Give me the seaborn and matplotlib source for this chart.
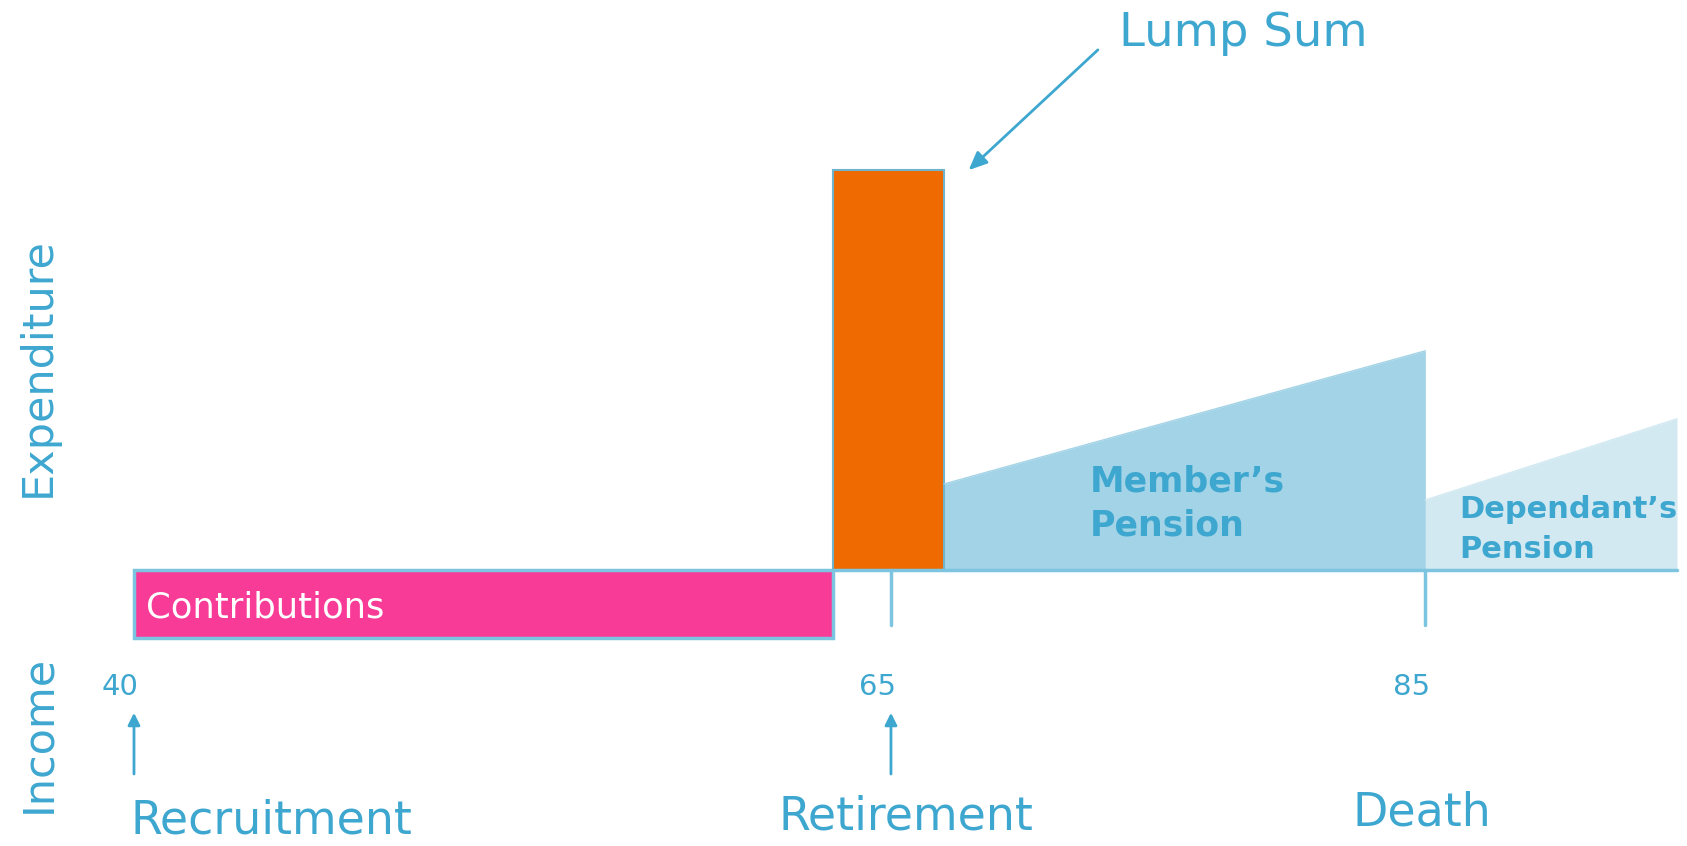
import numpy as np
import pandas as pd
import seaborn as sns
import matplotlib.pyplot as plt

# Schematic timeline (age-like units) and amounts (arbitrary units)
contrib_span = [40.0, 63.08]
contrib_level = -1.7
lump_span = [63.08, 66.75]
lump_level = 10.0

pension_streams = ["Member’s\nPension", "Dependant’s\nPension"]
pension_start = [66.75, 82.65]
pension_end = [82.65, 90.96]
pension_level_start = [2.15, 1.75]
pension_level_end = [5.48, 3.78]

event_ages = [40.0, 65.0, 82.65]
age_labels = ["40", "65", "85"]
event_labels = ["Recruitment", "Retirement", "Death"]

text_blue = "#3ea7d0"
line_blue = "#7cc4e0"
pink = "#f73b97"
orange = "#ef6a00"
pension_cols = ["#a3d3e6", "#d2e9f2"]

sns.set_theme(style="white")
plt.rcParams["font.family"] = ["DejaVu Sans"]

fig = plt.figure(figsize=(16.87, 8.46), dpi=100)
ax = fig.add_axes([0, 0, 1, 1])
ax.set_xlim(35.575, 91.29)
ax.set_ylim(-6.9, 14.25)
ax.axis("off")

# pension areas
rows = []
for name, x0, x1, y0, y1 in zip(pension_streams, pension_start, pension_end,
                                 pension_level_start, pension_level_end):
    rows.append({"stream": name, "age": x0, "level": y0})
    rows.append({"stream": name, "age": x1, "level": y1})
df = pd.DataFrame(rows)
sns.lineplot(data=df, x="age", y="level", hue="stream", palette=pension_cols,
             legend=False, lw=1, ax=ax)
for (name, grp), col in zip(df.groupby("stream", sort=False), pension_cols):
    ax.fill_between(grp["age"], 0, grp["level"], color=col, lw=0)

# baseline
ax.plot([lump_span[0], pension_end[-1]], [0, 0], color=line_blue, lw=2.5)

# contributions bar (income side)
ax.bar(contrib_span[0], contrib_level, width=contrib_span[1] - contrib_span[0],
       bottom=0, align="edge", color=pink, edgecolor=line_blue, lw=2.5)
ax.text(40.4, -1.2, "Contributions", color="white", fontsize=25.5,
        ha="left", va="baseline")

# lump sum bar
ax.bar(lump_span[0], lump_level, width=lump_span[1] - lump_span[0],
       bottom=0, align="edge", color=orange, edgecolor="#6fb3cc", lw=1.5)
ax.annotate("", xy=(67.5, 9.95), xytext=(71.9, 13.05),
            arrowprops=dict(arrowstyle="-|>,head_length=0.5,head_width=0.22",
                            color=text_blue, lw=2, mutation_scale=22))
ax.text(72.53, 13.1, "Lump Sum", color=text_blue, fontsize=33.5,
        ha="left", va="baseline")

# pension labels
ax.text(71.57, 1.95, "Member’s", color=text_blue, fontsize=25,
        fontweight="bold", ha="left", va="baseline")
ax.text(71.57, 0.85, "Pension", color=text_blue, fontsize=25,
        fontweight="bold", ha="left", va="baseline")
ax.text(83.76, 1.3, "Dependant’s", color=text_blue, fontsize=22,
        fontweight="bold", ha="left", va="baseline")
ax.text(83.76, 0.3, "Pension", color=text_blue, fontsize=22,
        fontweight="bold", ha="left", va="baseline")

# event ticks, ages, arrows and labels
for i, (age, lab, ev) in enumerate(zip(event_ages, age_labels, event_labels)):
    if i > 0:
        ax.plot([age, age], [0, -1.375], color=line_blue, lw=2.5)
    ax.annotate(lab, xy=(age, -3.125), xytext=(-10, 0), textcoords="offset points",
                color=text_blue, fontsize=21, ha="center", va="baseline")
    if i < 2:
        ax.annotate("", xy=(age, -3.5), xytext=(age, -5.17),
                    arrowprops=dict(arrowstyle="-|>", color=text_blue, lw=2,
                                    mutation_scale=18))
ax.text(event_ages[0] - 0.1, -6.6, event_labels[0], color=text_blue,
        fontsize=33, ha="left", va="baseline")
ax.text(event_ages[1] + 0.5, -6.5, event_labels[1], color=text_blue,
        fontsize=33, ha="center", va="baseline")
ax.text(event_ages[2] - 0.1, -6.4, event_labels[2], color=text_blue,
        fontsize=33, ha="center", va="baseline")

# side labels
ax.text(36.83, 5.08, "Expenditure", color=text_blue, fontsize=31,
        rotation=90, ha="center", va="center")
ax.text(36.83, -4.1, "Income", color=text_blue, fontsize=31,
        rotation=90, ha="center", va="center")

fig.savefig("out.png", dpi=100)
